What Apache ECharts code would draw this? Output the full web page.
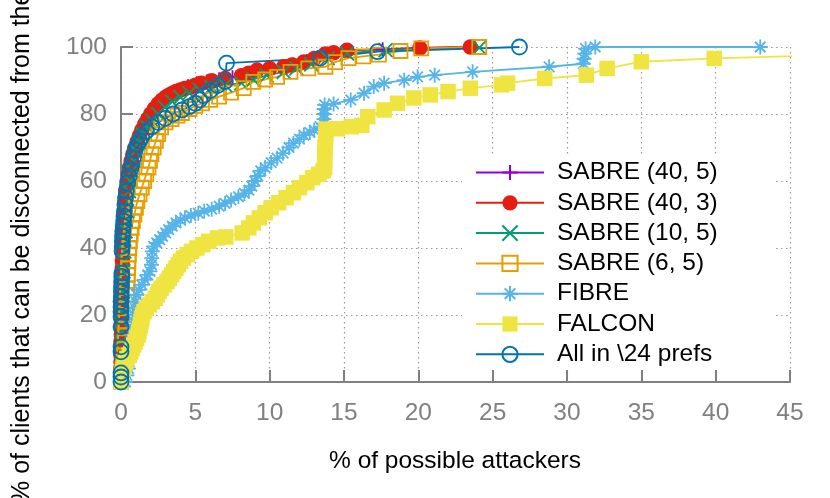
<!DOCTYPE html>
<html>
<head>
<meta charset="utf-8">
<script src="https://cdn.jsdelivr.net/npm/echarts@6/dist/echarts.min.js"></script>
<style>
  html, body { margin: 0; padding: 0; background: #fff; }
  #chart { width: 830px; height: 498px; }
</style>
</head>
<body>
<div id="chart"></div>
<script>
// ---- data: [x = % of possible attackers, y = % of clients] ----
const seriesNames = ['SABRE (40, 5)', 'SABRE (40, 3)', 'SABRE (10, 5)', 'SABRE (6, 5)', 'FIBRE', 'FALCON', 'All in \\24 prefs'];
const xTicks = [0, 5, 10, 15, 20, 25, 30, 35, 40, 45];
const yTicks = [0, 20, 40, 60, 80, 100];

const sabre40_5 = [[0,0],[0,3],[0,6],[0,9],[0.01,12],[0.02,15],[0.03,18],[0.04,21],[0.05,24],[0.06,27],[0.08,30],[0.1,33],[0.12,36],[0.14,39],[0.17,42],[0.2,45],[0.24,48],[0.28,51],[0.33,54],[0.4,57],[0.48,60],[0.58,63],[0.72,66],[0.9,69],[1.1,71.5],[1.35,74],[1.6,76],[1.9,78],[2.2,80],[2.55,82],[2.95,84],[3.4,85.7],[3.9,87],[4.5,88.3],[5.1,89.2],[5.8,89.8],[6.6,90.4],[7.5,91],[8.3,91.8],[9.0,92.8],[9.9,93.5],[10.9,94],[11.6,94.8],[12.5,95.8],[13.3,97],[13.9,98],[15.3,99],[17.6,99.3],[20.3,99.7],[23.6,100]];

const sabre40_3 = [[0,0],[0,2],[0,4],[0,6],[0,8],[0,10],[0,12],[0.02,14],[0.02,16],[0.03,18],[0.03,20],[0.04,22],[0.05,24],[0.05,26],[0.06,28],[0.07,30],[0.08,32],[0.09,34],[0.1,36],[0.1,38],[0.12,40],[0.13,42],[0.15,44],[0.17,46],[0.2,48],[0.22,50],[0.25,52],[0.28,54],[0.32,56],[0.37,58],[0.42,60],[0.5,62],[0.58,64],[0.68,66],[0.8,68],[0.95,70],[1.1,71.8],[1.25,73.5],[1.4,75.2],[1.6,77],[1.8,78.5],[2.0,80],[2.25,81.6],[2.5,83],[2.75,84.1],[3.0,85],[3.25,85.7],[3.5,86.3],[3.75,86.8],[4.0,87.2],[4.3,87.6],[4.65,88],[5.0,88.6],[5.4,89.2],[6.1,89.9],[7.0,90.6],[8.1,91.4],[8.6,92.2],[9.15,93.1],[10.0,93.6],[10.95,94.1],[11.5,94.6],[12.3,95.5],[13.0,96.6],[13.75,97.9],[14.3,98.3],[15.2,99.0],[20.1,99.7],[23.5,100]];

const sabre10_5 = [[0,0],[0,3],[0.01,6],[0.02,9],[0.03,12],[0.05,15],[0.06,18],[0.08,21],[0.1,24],[0.12,27],[0.14,30],[0.16,33],[0.19,36],[0.22,39],[0.26,42],[0.3,45],[0.35,48],[0.4,51],[0.46,54],[0.53,57],[0.62,60],[0.72,63],[0.85,66],[1.0,69],[1.2,71.5],[1.45,74],[1.75,76.2],[2.1,78],[2.5,80],[2.95,82],[3.45,83.7],[4.0,85],[4.6,86.2],[5.3,87.2],[6.1,88],[7.0,88.6],[8.1,89.2],[8.9,90.3],[9.8,91.5],[10.95,92.6],[11.8,93.6],[12.8,94.8],[13.9,96.7],[15.2,98.1],[17.8,99.1],[24.1,99.8]];

const sabre6_5 = [[0,0],[0.05,2],[0.1,4],[0.15,6],[0.2,8],[0.22,10],[0.25,12],[0.28,14],[0.3,16],[0.32,18],[0.34,20],[0.36,22],[0.38,24],[0.4,26],[0.42,28],[0.44,30],[0.46,32],[0.48,34],[0.5,36],[0.53,38],[0.56,40],[0.6,42],[0.65,44],[0.72,46],[0.8,48],[0.9,50],[1.0,52],[1.1,54],[1.25,56],[1.4,58],[1.55,60],[1.7,62],[1.85,64],[1.95,66],[2.05,68],[2.2,70],[2.35,72],[2.5,74],[2.7,76],[3.0,77.5],[3.4,78.5],[3.8,79.5],[4.1,80.3],[4.6,81.5],[5.0,82.4],[5.45,83.2],[6.0,84.2],[6.6,85.2],[7.4,86.4],[8.25,87.7],[8.9,89.6],[9.7,90.3],[10.5,91.1],[11.4,92.6],[12.6,93.6],[13.75,94.1],[14.4,95.5],[15.3,96.7],[16.3,97.2],[17.35,97.7],[18.8,98.8],[20.2,99.6],[24.1,100]];

const fibre = [[0.3,0],[0.4,2],[0.5,4],[0.55,6],[0.6,8],[0.65,10],[0.7,12],[0.75,14],[0.8,16],[0.85,18],[0.9,20],[0.95,22],[1.0,24],[1.05,26],[1.2,27.5],[1.4,29],[1.6,30.5],[1.8,32],[1.95,33],[2.05,35],[2.07,37],[2.1,39],[2.2,40.5],[2.4,41.5],[2.6,42.5],[2.8,43.5],[3.0,44.5],[3.2,45.5],[3.45,46.5],[3.7,47.5],[4.0,48.3],[4.3,49],[4.7,49.7],[5.2,50.4],[5.6,51],[6.1,51.6],[6.6,52.5],[7.0,53.3],[7.4,54.3],[7.9,55.3],[8.3,56.3],[8.6,57.3],[8.8,58.5],[9.0,60],[9.2,61.5],[9.4,63],[9.7,64],[10.1,65.5],[10.5,66.8],[10.9,68.3],[11.3,70],[11.6,71.3],[12.0,72.5],[12.3,73.7],[12.7,74.5],[13.0,75.2],[13.4,76.2],[13.65,77],[13.65,78.5],[13.65,80],[13.67,81.5],[13.7,82.7],[14.3,83],[15.45,84.2],[16.35,86.2],[17.0,88.2],[17.7,89.2],[19.05,90.1],[19.95,91.1],[21.1,91.6],[23.65,92.6],[28.8,94.1],[31.1,95],[31.15,96.5],[31.2,98],[31.25,99.5],[31.9,100],[43.0,100]];

const falcon = [[0,0],[0,1],[0.05,2],[0.1,3],[0.15,4],[0.2,5],[0.3,6],[0.4,7],[0.55,8],[0.65,9],[0.75,10],[0.85,11],[0.95,12],[1.05,13],[1.15,14],[1.2,15],[1.25,16],[1.3,17],[1.35,18],[1.4,19],[1.45,20],[1.55,21],[1.7,22],[1.9,23],[2.1,24],[2.3,25],[2.45,26],[2.55,27],[2.7,28],[2.9,29],[3.1,30],[3.25,31],[3.4,32],[3.55,33],[3.7,34],[3.85,35],[4.0,36],[4.2,37],[4.45,38],[4.75,39],[5.1,40],[5.5,41],[5.9,42],[6.5,43],[7.05,43.3],[8.15,44.5],[8.6,46],[8.9,47.5],[9.3,49],[9.7,50.5],[10.1,52],[10.6,53.5],[11.1,55],[11.6,56.5],[12.0,58],[12.5,59.5],[12.9,61],[13.3,62],[13.6,63],[13.7,64],[13.7,66],[13.7,68],[13.72,70],[13.75,72],[13.78,74],[13.8,75.5],[14.55,75.6],[15.5,76.2],[16.2,76.6],[16.6,79.2],[17.7,81.2],[18.6,83.2],[19.7,84.8],[20.8,85.7],[22.0,86.7],[23.5,87.7],[25.6,88.7],[26.0,89.2],[28.5,90.6],[31.3,91.6],[32.7,93.6],[35.0,95.6],[39.9,96.6],[52.0,98.2]];

const allIn24 = [[0,0],[0,1.5],[0,2.7],[0,9],[0,10.5],[0,16.5],[0,19.5],[0,21],[0,22.5],[0,24],[0.02,25.5],[0.02,27],[0.03,28.5],[0.04,30],[0.05,31.5],[0.06,32.5],[0.07,39],[0.08,40.5],[0.09,42],[0.1,43.5],[0.12,45],[0.15,46.5],[0.18,48],[0.2,49.5],[0.23,51],[0.26,53],[0.3,55],[0.36,57],[0.45,59.4],[0.55,61.5],[0.65,63.5],[0.75,65],[0.85,67],[0.95,69.3],[1.1,70.8],[1.25,72],[1.4,73.2],[1.7,74.8],[2.07,76.2],[2.5,77.5],[2.97,78.7],[3.5,80],[4.1,81.2],[4.6,82.2],[5.0,83.2],[5.3,84.2],[5.55,85.5],[6.0,87],[6.5,88.5],[7.0,89.7],[7.1,95.2],[13.4,96.7],[17.25,98.6],[26.8,100]];

// ---- styling ----
const colors = ['#9400D3', '#E51E10', '#009E73', '#E69F00', '#56B4E9', '#F0E442', '#0072B2'];
const SYM_PLUS = 'path://M0,5L10,5M5,0L5,10';
const SYM_X = 'path://M0,0L10,10M0,10L10,0';
const SYM_STAR = 'path://M0,5L10,5M5,0L5,10M1.5,1.5L8.5,8.5M1.5,8.5L8.5,1.5';
const AX = '#808080';
const FONT = '"Liberation Sans", Arial, Helvetica, sans-serif';
const FS = 24.5;

function mk(name, data, color, symbol, size, filled, stroke) {
  return {
    name: name,
    type: 'line',
    data: data,
    symbol: symbol,
    symbolSize: size,
    showAllSymbol: true,
    clip: true,
    lineStyle: { color: color, width: 1.8 },
    itemStyle: filled
      ? { color: color, borderWidth: 0 }
      : { color: stroke ? color : 'rgba(255,255,255,0)', borderColor: color, borderWidth: 1.8 },
    emphasis: { disabled: true },
    animation: false
  };
}

const chart = echarts.init(document.getElementById('chart'), null, { renderer: 'canvas' });
chart.setOption({
  animation: false,
  backgroundColor: '#fff',
  grid: { left: 121, right: 40, top: 47, bottom: 116, containLabel: false },
  xAxis: {
    type: 'value', min: xTicks[0], max: xTicks[xTicks.length - 1], interval: 5,
    axisLine: { show: true, onZero: false, lineStyle: { color: AX, width: 2 } },
    axisTick: { show: true, inside: true, length: 12, lineStyle: { color: AX, width: 2 } },
    axisLabel: { color: AX, fontSize: FS, fontFamily: FONT, margin: 19 },
    splitLine: { show: true, lineStyle: { color: '#999', width: 1.2, type: [1.5, 3.5] } }
  },
  yAxis: {
    type: 'value', min: yTicks[0], max: yTicks[yTicks.length - 1], interval: 20,
    axisLine: { show: true, lineStyle: { color: AX, width: 2 } },
    axisTick: { show: true, inside: true, length: 12, lineStyle: { color: AX, width: 2 } },
    axisLabel: { color: AX, fontSize: FS, fontFamily: FONT, margin: 14 },
    splitLine: { show: true, lineStyle: { color: '#999', width: 1.2, type: [1.5, 3.5] } }
  },
  legend: {
    data: seriesNames,
    orient: 'vertical',
    left: 462, top: 156,
    padding: [4, 58, 3, 13],
    backgroundColor: '#fff',
    itemWidth: 68, itemHeight: 19, itemGap: 5.3,
    selectedMode: false,
    textStyle: { color: '#000', fontSize: FS, fontFamily: FONT, lineHeight: 24, padding: [0, 0, 0, 8] }
  },
  graphic: [
    { type: 'text', x: 455, y: 461, style: { text: '% of possible attackers', fill: '#000', font: FS + 'px ' + FONT, textAlign: 'center', textVerticalAlign: 'middle' } },
    { type: 'text', x: 22, y: 503, rotation: Math.PI / 2, style: { text: '% of clients that can be disconnected from the network', fill: '#000', font: '25px ' + FONT, textAlign: 'left', textVerticalAlign: 'middle' } }
  ],
  series: [
    mk(seriesNames[0], sabre40_5, colors[0], SYM_PLUS, 14, false, true),
    mk(seriesNames[1], sabre40_3, colors[1], 'circle', 15.5, true),
    mk(seriesNames[2], sabre10_5, colors[2], SYM_X, 14, false, true),
    mk(seriesNames[3], sabre6_5, colors[3], 'rect', 14, false, false),
    mk(seriesNames[4], fibre, colors[4], SYM_STAR, 15, false, true),
    mk(seriesNames[5], falcon, colors[5], 'rect', 15.5, true),
    mk(seriesNames[6], allIn24, colors[6], 'circle', 15, false, false)
  ]
});
</script>
</body>
</html>
